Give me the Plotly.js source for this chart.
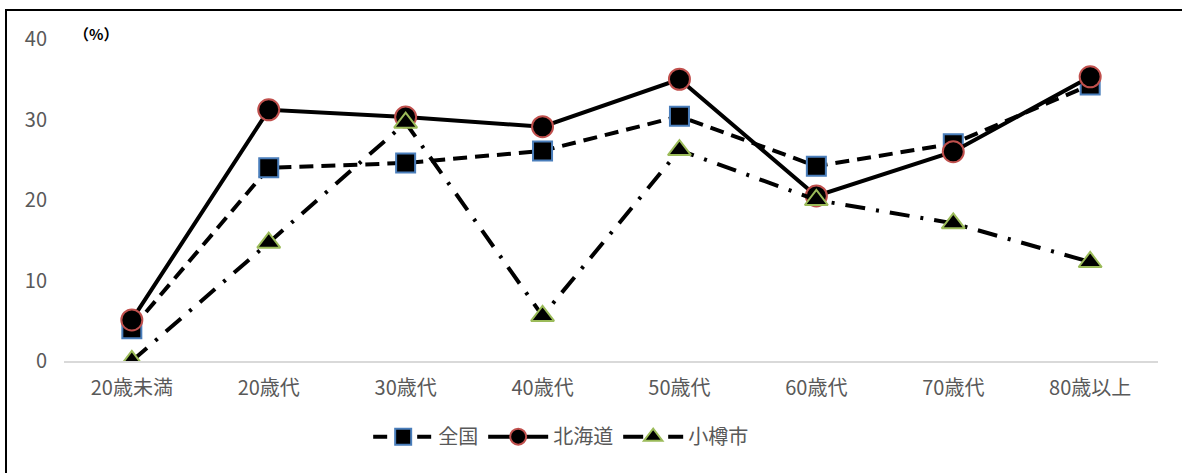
<!DOCTYPE html>
<html>
<head>
<meta charset="utf-8">
<script src="https://cdn.plot.ly/plotly-3.0.1.min.js"></script>
<style>
html,body{margin:0;padding:0;background:#fff;}
#wrap{position:relative;width:1182px;height:473px;}
#chart{width:1182px;height:473px;}
#frame{position:absolute;left:5px;top:9px;width:1200px;height:500px;border-left:2px solid #000;border-top:2px solid #000;pointer-events:none;}
</style>
</head>
<body>
<div id="wrap"><div id="chart"></div><div id="frame"></div></div>
<script>
const categories = ["20歳未満","20歳代","30歳代","40歳代","50歳代","60歳代","70歳代","80歳以上"];
const seriesNames = ["全国","北海道","小樽市"];
const zenkoku  = [4.0, 24.0, 24.6, 26.1, 30.4, 24.2, 27.0, 34.3];
const hokkaido = [5.1, 31.2, 30.3, 29.1, 35.0, 20.5, 26.0, 35.3];
const otaru    = [0.0, 14.7, 29.6, 5.6, 26.2, 20.0, 17.1, 12.3];
const yTicks = [0, 10, 20, 30, 40];

const font = "'Noto Sans CJK JP', 'Noto Sans', sans-serif";
const traces = [
  {x: categories, y: zenkoku, name: seriesNames[0], type: "scatter", mode: "lines+markers",
   line: {color: "#000", width: 4, dash: "14px,8px"},
   marker: {symbol: "square", size: 19, color: "#000", line: {color: "#4a7ebb", width: 2}}},
  {x: categories, y: hokkaido, name: seriesNames[1], type: "scatter", mode: "lines+markers",
   line: {color: "#000", width: 4},
   marker: {symbol: "circle", size: 21, color: "#000", line: {color: "#c0504d", width: 2}}},
  {x: categories, y: otaru, name: seriesNames[2], type: "scatter", mode: "lines+markers",
   line: {color: "#000", width: 4, dash: "20px,11px,3px,11px"},
   marker: {symbol: "triangle-up", size: 20, color: "#000", line: {color: "#9bbb59", width: 2}}}
];
const layout = {
  width: 1182, height: 473,
  margin: {l: 64, r: 24, t: 39, b: 112},
  paper_bgcolor: "#fff", plot_bgcolor: "#fff",
  font: {family: font, color: "#595959", size: 20},
  showlegend: true,
  legend: {orientation: "h", x: 0.454, xanchor: "center", y: -0.235, yanchor: "middle",
           font: {family: font, size: 20, color: "#595959"}, itemwidth: 60, traceorder: "normal"},
  xaxis: {type: "category", showgrid: false, showline: true, linecolor: "#d9d9d9", linewidth: 1.5,
          ticks: "", zeroline: false, ticklabelstandoff: 8,
          tickfont: {family: font, size: 20, color: "#595959"}},
  yaxis: {range: [0, 40], tickvals: yTicks, showgrid: false, zeroline: false, showline: false,
          ticks: "", ticklabelstandoff: 16,
          tickfont: {family: font, size: 20, color: "#595959"}},
  annotations: [{xref: "paper", yref: "paper", x: 0.029, y: 1.018, xanchor: "center", yanchor: "middle",
                 text: "<b>（%）</b>", showarrow: false, font: {family: "'Noto Sans CJK JP'", size: 15, color: "#000"}}]
};
Plotly.newPlot("chart", traces, layout, {displayModeBar: false, staticPlot: true});
</script>
</body>
</html>
